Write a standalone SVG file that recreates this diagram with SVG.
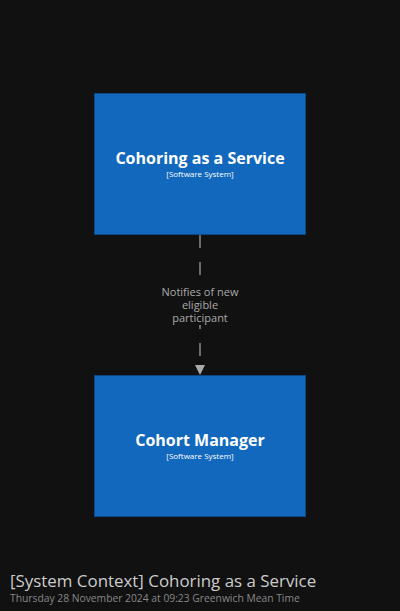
<svg xmlns="http://www.w3.org/2000/svg" width="400" height="611" viewBox="0 0 400 611">
<style>
.box{fill:#1168BD;stroke:#0B4884;stroke-width:1}
.name{font-family:"Open Sans",sans-serif;font-weight:bold;font-size:16px;fill:#ffffff;text-anchor:middle}
.type{font-family:"Open Sans",sans-serif;font-size:8px;fill:#ffffff;text-anchor:middle}
.lbl{font-family:"Open Sans",sans-serif;font-size:11px;fill:#aaaaaa;text-anchor:middle}
.line{stroke:#8a8a8a;stroke-width:1.5;fill:none;stroke-dasharray:13 14}
</style>
<rect width="400" height="611" fill="#111111"/>
<g id="connectors">
<line class="line" x1="200" y1="235" x2="200" y2="366"/>
<path d="M195,365 L205,365 L200,375 Z" fill="#aaaaaa"/>
<rect x="158" y="284" width="84" height="41" fill="#111111"/>
<text class="lbl" x="200" y="296">Notifies of new</text>
<text class="lbl" x="200" y="309">eligible</text>
<text class="lbl" x="200" y="322">participant</text>
</g>
<g id="caas">
<rect class="box" x="94.5" y="93.5" width="211" height="141"/>
<text class="name" x="200" y="164">Cohoring as a Service</text>
<text class="type" x="200" y="176.5">[Software System]</text>
</g>
<g id="cohort-manager">
<rect class="box" x="94.5" y="375.5" width="211" height="141"/>
<text class="name" x="200" y="446">Cohort Manager</text>
<text class="type" x="200" y="458.5">[Software System]</text>
</g>
<g id="title">
<text x="10" y="587" font-family="Open Sans, sans-serif" font-size="16.9" fill="#cccccc">[System Context] Cohoring as a Service</text>
<text x="10" y="602" font-family="Open Sans, sans-serif" font-size="10.3" fill="#888888">Thursday 28 November 2024 at 09:23 Greenwich Mean Time</text>
</g>
</svg>
